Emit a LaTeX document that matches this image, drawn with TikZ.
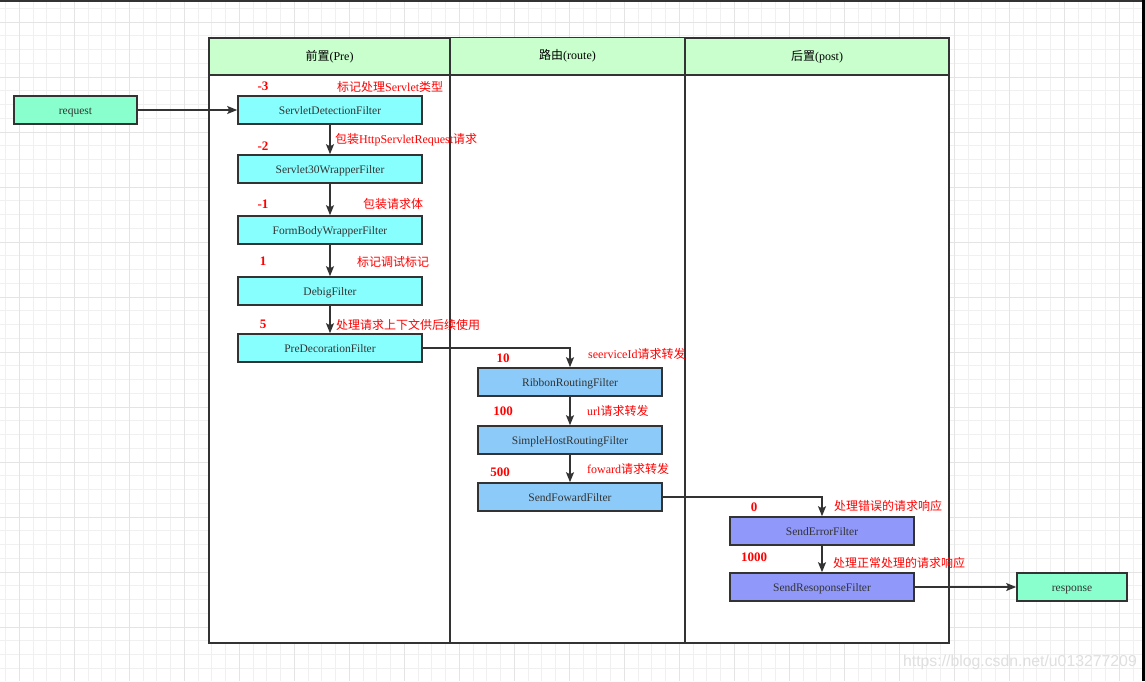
\documentclass[tikz,border=0pt]{standalone}
\usepackage{fontspec}
\setmainfont{Liberation Serif}
\newfontfamily\cjk{Noto Sans CJK SC}
\newfontfamily\wmfont{Liberation Sans}
\usepackage{xcolor}
\usetikzlibrary{arrows.meta}

\definecolor{linegray}{HTML}{333333}
\definecolor{lanegreen}{HTML}{C8FFCC}
\definecolor{mint}{HTML}{88FFCC}
\definecolor{precyan}{HTML}{88FFFF}
\definecolor{routeblue}{HTML}{8CCBF9}
\definecolor{postblue}{HTML}{9098FA}
\definecolor{gridlight}{HTML}{F0F0F0}
\definecolor{griddark}{HTML}{E4E4E4}

\begin{document}
\begin{tikzpicture}[x=1pt,y=-1pt,>={Stealth[length=10pt,width=8pt,inset=2pt]},
    box/.style={draw=linegray,line width=1.6pt,minimum height=28pt,inner sep=0pt,
        text height=9pt,text depth=0pt,
        text=linegray,font=\fontsize{11.5}{12}\selectfont},
    filter/.style={box,minimum width=184pt},
    lanehead/.style={draw=linegray,line width=1.6pt,fill=lanegreen,minimum height=37pt,
        inner sep=0pt,text=black,font=\fontsize{12}{13}\selectfont},
    order/.style={text=red,font=\fontsize{13}{14}\selectfont\bfseries,inner sep=0pt},
    note/.style={text=red,font=\fontsize{12}{13}\selectfont,inner sep=0pt,anchor=west},
    flow/.style={->,draw=linegray,line width=1.5pt}]

    \useasboundingbox (0,0) rectangle (1145,681);
    \fill[white] (0,0) rectangle (1145,681);

    % grid
    \foreach \gx in {5.55,19.3,...,1145}
        \draw[gridlight,line width=1pt] (\gx,0) -- (\gx,681);
    \foreach \gy in {8.25,22,...,681}
        \draw[gridlight,line width=1pt] (0,\gy) -- (1145,\gy);
    \foreach \gx in {19.3,74.3,...,1145}
        \draw[griddark,line width=1pt] (\gx,0) -- (\gx,681);
    \foreach \gy in {22,77,...,681}
        \draw[griddark,line width=1pt] (0,\gy) -- (1145,\gy);
    \fill[linegray] (0,0) rectangle (1145,2);
    \fill[black] (1142,0) rectangle (1145,681);

    % lanes
    \draw[linegray,line width=1.6pt,fill=white] (209,75) rectangle (949,643);
    \draw[linegray,line width=1.6pt] (450,75) -- (450,643);
    \draw[linegray,line width=1.6pt] (685,75) -- (685,643);
    \node[lanehead,minimum width=241pt] (prehead) at (329.5,56.5) {{\cjk 前置}(Pre)};
    \node[lanehead,minimum width=235pt] (routehead) at (567.5,56) {{\cjk 路由}(route)};
    \node[lanehead,minimum width=264pt] (posthead) at (817,56.5) {{\cjk 后置}(post)};

    % boxes
    \node[box,fill=mint,minimum width=123pt] (request) at (75.5,110) {request};
    \node[filter,fill=precyan] (detect) at (330,110) {ServletDetectionFilter};
    \node[filter,fill=precyan] (wrap30) at (330,169) {Servlet30WrapperFilter};
    \node[filter,fill=precyan] (formbody) at (330,230) {FormBodyWrapperFilter};
    \node[filter,fill=precyan] (debug) at (330,291) {DebigFilter};
    \node[filter,fill=precyan] (predeco) at (330,348) {PreDecorationFilter};
    \node[filter,fill=routeblue] (ribbon) at (570,382) {RibbonRoutingFilter};
    \node[filter,fill=routeblue] (simplehost) at (570,440) {SimpleHostRoutingFilter};
    \node[filter,fill=routeblue] (forward) at (570,497) {SendFowardFilter};
    \node[filter,fill=postblue] (senderror) at (822,531) {SendErrorFilter};
    \node[filter,fill=postblue] (sendresp) at (822,587) {SendResoponseFilter};
    \node[box,fill=mint,minimum width=110pt] (response) at (1072,587) {response};

    % arrows
    \draw[flow] (request) -- (detect);
    \draw[flow] (detect) -- (wrap30);
    \draw[flow] (wrap30) -- (formbody);
    \draw[flow] (formbody) -- (debug);
    \draw[flow] (debug) -- (predeco);
    \draw[flow] (predeco.east) -| (ribbon.north);
    \draw[flow] (ribbon) -- (simplehost);
    \draw[flow] (simplehost) -- (forward);
    \draw[flow] (forward.east) -| (senderror.north);
    \draw[flow] (senderror) -- (sendresp);
    \draw[flow] (sendresp) -- (response);

    % order numbers and notes
    \node[order] (o1) at (263,86) {-3};
    \node[note] (n1) at (337,87) {{\cjk 标记处理}Servlet{\cjk 类型}};
    \node[order] (o2) at (263,146) {-2};
    \node[note] (n2) at (335,140) {{\cjk 包装}HttpServletRequest{\cjk 请求}};
    \node[order] (o3) at (263,204) {-1};
    \node[note] (n3) at (363,204) {\cjk 包装请求体};
    \node[order] (o4) at (263,261) {1};
    \node[note] (n4) at (357,262) {\cjk 标记调试标记};
    \node[order] (o5) at (263,324) {5};
    \node[note] (n5) at (336,325) {\cjk 处理请求上下文供后续使用};
    \node[order] (o6) at (503,358) {10};
    \node[note] (n6) at (588,354) {seerviceId{\cjk 请求转发}};
    \node[order] (o7) at (503,411) {100};
    \node[note] (n7) at (587,411) {url{\cjk 请求转发}};
    \node[order] (o8) at (500,472) {500};
    \node[note] (n8) at (587,469) {foward{\cjk 请求转发}};
    \node[order] (o9) at (754,507) {0};
    \node[note] (n9) at (834,506) {\cjk 处理错误的请求响应};
    \node[order] (o10) at (754,557) {1000};
    \node[note] (n10) at (833,563) {\cjk 处理正常处理的请求响应};

    \node[text=gray!25,font=\wmfont\fontsize{15.8}{17}\selectfont,anchor=east,inner sep=0pt]
        (mark) at (1137,662) {https://blog.csdn.net/u013277209};
\end{tikzpicture}
\end{document}
